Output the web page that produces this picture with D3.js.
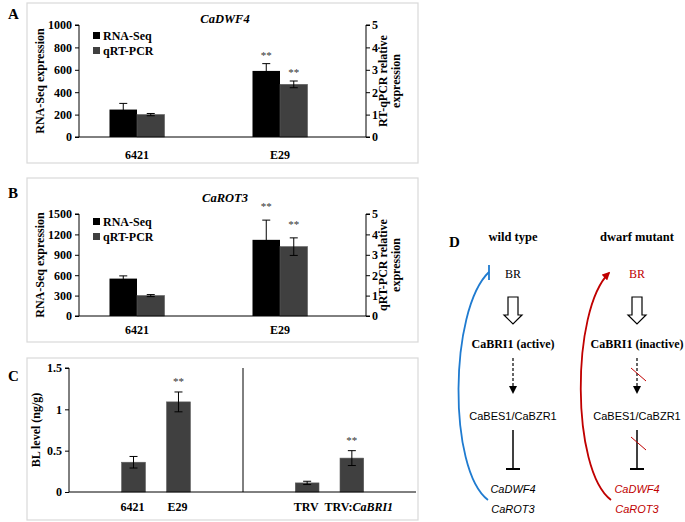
<!DOCTYPE html>
<html><head><meta charset="utf-8">
<script src="https://cdn.jsdelivr.net/npm/d3@7"></script>
<style>body{margin:0;background:#fff}svg{display:block}</style>
</head><body>
<svg id="c" width="685" height="522"></svg>
<script>
// ---------- data ----------
const lines = ["6421", "E29"];
const seriesNames = ["RNA-Seq", "qRT-PCR"];
const dwf4Rna = [245, 590];
const dwf4RnaErr = [55, 65];
const dwf4Qrt = [1.0, 2.35];
const dwf4QrtErr = [0.05, 0.15];
const rot3Rna = [550, 1120];
const rot3RnaErr = [40, 290];
const rot3Qrt = [1.0, 3.4];
const rot3QrtErr = [0.05, 0.43];
const dwf4Sig = ["", "**"];
const rot3Sig = ["", "**"];
const dwf4LeftTicks = [0, 200, 400, 600, 800, 1000];
const rot3LeftTicks = [0, 300, 600, 900, 1200, 1500];
const rightTicks = [0, 1, 2, 3, 4, 5];
const blGroup1 = ["6421", "E29"];
const blGroup2 = ["TRV", "TRV:CaBRI1"];
const blValues1 = [0.36, 1.09];
const blErr1 = [0.07, 0.12];
const blValues2 = [0.11, 0.41];
const blErr2 = [0.02, 0.09];
const blSig1 = ["", "**"];
const blSig2 = ["", "**"];
const blTicks = [0, 0.5, 1, 1.5];

const svg = d3.select("#c");
const SERIF = "'Liberation Serif','Times New Roman',serif";
const SANS = "'Liberation Sans',Arial,sans-serif";
const colRna = "#000000", colQrt = "#404040";
const FS = 12;

function box(x, y, w, h) {
  svg.append("rect").attr("x", x).attr("y", y).attr("width", w).attr("height", h)
    .attr("fill", "none").attr("stroke", "#d9d9d9").attr("stroke-width", 1.2);
}
function panelLabel(t, x, y) {
  svg.append("text").attr("x", x).attr("y", y).text(t)
    .attr("font-family", SERIF).attr("font-weight", "bold").attr("font-size", 15);
}

function dualChart(o) {
  const g = svg.append("g");
  const yL = d3.scaleLinear().domain([0, o.leftMax]).range([o.y0, o.y1]);
  const yR = d3.scaleLinear().domain([0, 5]).range([o.y0, o.y1]);
  const x0 = d3.scaleBand().domain(lines).range([o.xb0, o.xb1]);
  const x1 = d3.scaleBand().domain(seriesNames).range([0, 55]);
  const off = x0.bandwidth() / 2 - 27.5;

  lines.forEach((c, i) => {
    const bx = x0(c) + off;
    const rv = o.rna[i], qv = o.qrt[i];
    g.append("rect").attr("x", bx + x1("RNA-Seq")).attr("width", x1.bandwidth())
      .attr("y", yL(rv)).attr("height", yL(0) - yL(rv)).attr("fill", colRna);
    g.append("rect").attr("x", bx + x1("qRT-PCR")).attr("width", x1.bandwidth())
      .attr("y", yR(qv)).attr("height", yR(0) - yR(qv)).attr("fill", colQrt)
      .attr("stroke", "#5a5a5a").attr("stroke-width", 0.6);
    const eb = (cx, top, bot) => {
      g.append("line").attr("x1", cx).attr("x2", cx).attr("y1", top).attr("y2", bot).attr("stroke", "#000").attr("stroke-width", 1);
      g.append("line").attr("x1", cx - 4).attr("x2", cx + 4).attr("y1", top).attr("y2", top).attr("stroke", "#000").attr("stroke-width", 1);
      g.append("line").attr("x1", cx - 4).attr("x2", cx + 4).attr("y1", bot).attr("y2", bot).attr("stroke", "#000").attr("stroke-width", 1);
    };
    const cr = bx + x1("RNA-Seq") + x1.bandwidth() / 2;
    const cq = bx + x1("qRT-PCR") + x1.bandwidth() / 2;
    eb(cr, yL(rv + o.rnaErr[i]), yL(rv - o.rnaErr[i]));
    eb(cq, yR(qv + o.qrtErr[i]), yR(qv - o.qrtErr[i]));
    if (o.sig[i]) {
      g.append("text").attr("x", cr).attr("y", yL(rv + o.rnaErr[i]) - o.sigGap).text(o.sig[i])
        .attr("text-anchor", "middle").attr("font-family", SERIF).attr("font-size", 11).attr("fill", "#333");
      g.append("text").attr("x", cq).attr("y", yR(qv + o.qrtErr[i]) - o.sigGap).text(o.sig[i])
        .attr("text-anchor", "middle").attr("font-family", SERIF).attr("font-size", 11).attr("fill", "#333");
    }
  });

  const ax = d3.axisLeft(yL).tickValues(o.leftTicks).tickFormat(d3.format("d")).tickSize(4).tickPadding(3);
  const gl = g.append("g").attr("transform", `translate(${o.xl},0)`).call(ax);
  const axr = d3.axisRight(yR).tickValues(rightTicks).tickFormat(d3.format("d")).tickSize(4).tickPadding(2);
  const gr = g.append("g").attr("transform", `translate(${o.xr},0)`).call(axr);
  [gl, gr].forEach(a => {
    a.select(".domain").attr("stroke", "#000").attr("d", `M${a === gl ? -4 : 4},${o.y1}H0V${o.y0}H${a === gl ? -4 : 4}`);
    a.selectAll("text").attr("font-family", SERIF).attr("font-weight", "bold").attr("font-size", FS).attr("fill", "#000");
    a.selectAll("line").attr("stroke", "#000");
  });
  g.append("line").attr("x1", o.xl).attr("x2", o.xr).attr("y1", o.y0).attr("y2", o.y0).attr("stroke", "#000");

  lines.forEach(c => {
    g.append("text").attr("x", x0(c) + x0.bandwidth() / 2).attr("y", o.catY).text(c)
      .attr("text-anchor", "middle").attr("font-family", SERIF).attr("font-weight", "bold").attr("font-size", FS);
  });
  g.append("text").attr("x", 225).attr("y", o.titleY).text(o.title)
    .attr("text-anchor", "middle").attr("font-family", SERIF).attr("font-weight", "bold")
    .attr("font-style", "italic").attr("font-size", 12.5);
  g.append("text").attr("transform", `translate(44,${(o.y0 + o.y1) / 2}) rotate(-90)`).text("RNA-Seq expression")
    .attr("text-anchor", "middle").attr("font-family", SERIF).attr("font-weight", "bold").attr("font-size", FS);
  const rl = g.append("text").attr("transform", `translate(387,${(o.y0 + o.y1) / 2}) rotate(-90)`)
    .attr("text-anchor", "middle").attr("font-family", SERIF).attr("font-weight", "bold").attr("font-size", FS);
  rl.append("tspan").attr("x", 0).attr("dy", 0).text(o.rightLabel);
  rl.append("tspan").attr("x", 0).attr("dy", 12.5).text("expression");
  const cols = [colRna, colQrt];
  seriesNames.forEach((s, i) => {
    const ly = o.legY + i * 15;
    g.append("rect").attr("x", 93).attr("y", ly - 8).attr("width", 7).attr("height", 7).attr("fill", cols[i]);
    g.append("text").attr("x", 103).attr("y", ly).text(s)
      .attr("font-family", SERIF).attr("font-weight", "bold").attr("font-size", FS);
  });
}

// ---------- panel A ----------
box(27, 3, 391, 160);
panelLabel("A", 8, 19);
dualChart({
  leftMax: 1000, y0: 137, y1: 25, xb0: 65.5, xb1: 351.5, xl: 79, xr: 366,
  rna: dwf4Rna, rnaErr: dwf4RnaErr, qrt: dwf4Qrt, qrtErr: dwf4QrtErr, sig: dwf4Sig,
  leftTicks: dwf4LeftTicks, title: "CaDWF4", titleY: 23, catY: 159, legY: 40,
  rightLabel: "RT-qPCR relative", sigGap: 5
});

// ---------- panel B ----------
box(27, 178, 391, 164);
panelLabel("B", 8, 198);
dualChart({
  leftMax: 1500, y0: 316, y1: 214, xb0: 65.5, xb1: 351.5, xl: 79, xr: 366,
  rna: rot3Rna, rnaErr: rot3RnaErr, qrt: rot3Qrt, qrtErr: rot3QrtErr, sig: rot3Sig,
  leftTicks: rot3LeftTicks, title: "CaROT3", titleY: 202, catY: 334, legY: 226,
  rightLabel: "qRT-PCR relative", sigGap: 10
});

// ---------- panel C ----------
box(27, 358, 391, 162);
panelLabel("C", 8, 381);
(function () {
  const g = svg.append("g");
  const y = d3.scaleLinear().domain([0, 1.5]).range([492, 368]);
  const xa = d3.scaleBand().domain(blGroup1).range([69, 243]).paddingInner(0.47).paddingOuter(1.17);
  const xb = d3.scaleBand().domain(blGroup2).range([243, 416]).paddingInner(0.47).paddingOuter(1.17);
  const draw = (xs, cats, vals, errs, sig) => {
    cats.forEach((c, i) => {
      const v = vals[i], cx = xs(c) + xs.bandwidth() / 2;
      g.append("rect").attr("x", xs(c)).attr("width", xs.bandwidth()).attr("y", y(v)).attr("height", y(0) - y(v))
        .attr("fill", colQrt).attr("stroke", "#5a5a5a").attr("stroke-width", 0.6);
      const t = y(v + errs[i]), b = y(v - errs[i]);
      g.append("line").attr("x1", cx).attr("x2", cx).attr("y1", t).attr("y2", b).attr("stroke", "#000");
      [t, b].forEach(yy => g.append("line").attr("x1", cx - 4).attr("x2", cx + 4).attr("y1", yy).attr("y2", yy).attr("stroke", "#000"));
      if (sig[i]) g.append("text").attr("x", cx).attr("y", t - 7).text(sig[i]).attr("text-anchor", "middle")
        .attr("font-family", SERIF).attr("font-size", 11).attr("fill", "#333");
      const parts = c.split(":");
      const lab = g.append("text").attr("x", parts.length > 1 ? cx + 7 : cx - 1).attr("y", 511).attr("text-anchor", "middle")
        .attr("font-family", SERIF).attr("font-weight", "bold").attr("font-size", FS);
      if (parts.length > 1) {
        lab.append("tspan").text(parts[0] + ":");
        lab.append("tspan").attr("font-style", "italic").text(parts[1]);
      } else lab.text(c);
    });
  };
  draw(xa, blGroup1, blValues1, blErr1, blSig1);
  draw(xb, blGroup2, blValues2, blErr2, blSig2);
  const ax = g.append("g").attr("transform", "translate(69,0)")
    .call(d3.axisLeft(y).tickValues(blTicks).tickFormat(d3.format("")).tickSize(4).tickPadding(3));
  ax.select(".domain").attr("d", "M-4,368H0V492");
  ax.selectAll("text").attr("font-family", SERIF).attr("font-weight", "bold").attr("font-size", FS);
  g.append("line").attr("x1", 69).attr("x2", 416).attr("y1", 492).attr("y2", 492).attr("stroke", "#000");
  g.append("line").attr("x1", 243).attr("x2", 243).attr("y1", 368).attr("y2", 492).attr("stroke", "#000");
  g.append("text").attr("transform", "translate(40,430) rotate(-90)").text("BL level (ng/g)")
    .attr("text-anchor", "middle").attr("font-family", SERIF).attr("font-weight", "bold").attr("font-size", FS);
})();

// ---------- panel D ----------
(function () {
  const g = svg.append("g");
  const blue = "#1f7bd0", red = "#c00000";
  panelLabel("D", 449, 247);
  const cols = [{ cx: 513, head: "wild type", state: "CaBRI1 (active)", mut: false },
                { cx: 637, head: "dwarf mutant", state: "CaBRI1 (inactive)", mut: true }];
  const defs = svg.append("defs");
  defs.append("marker").attr("id", "rh").attr("viewBox", "0 0 10 10").attr("refX", 8).attr("refY", 5)
    .attr("markerWidth", 4.5).attr("markerHeight", 4.5).attr("orient", "auto")
    .append("path").attr("d", "M0,0L10,5L0,10Z").attr("fill", red);

  cols.forEach(k => {
    const x = k.cx;
    g.append("text").attr("x", x).attr("y", 241).text(k.head).attr("text-anchor", "middle")
      .attr("font-family", SERIF).attr("font-weight", "bold").attr("font-size", 12.5);
    g.append("text").attr("x", x).attr("y", 278).text("BR").attr("text-anchor", "middle")
      .attr("font-family", SERIF).attr("font-size", 12).attr("fill", k.mut ? red : "#000");
    g.append("path").attr("d", `M${x - 5},297V315H${x - 9}L${x},324L${x + 9},315H${x + 5}V297Z`)
      .attr("fill", "#fff").attr("stroke", "#000").attr("stroke-width", 1.2);
    g.append("text").attr("x", x).attr("y", 348).text(k.state).attr("text-anchor", "middle")
      .attr("font-family", SERIF).attr("font-weight", "bold").attr("font-size", 12);
    g.append("line").attr("x1", x).attr("x2", x).attr("y1", 358).attr("y2", 386).attr("stroke", "#000")
      .attr("stroke-width", 1.2).attr("stroke-dasharray", "3,2");
    g.append("path").attr("d", `M${x - 4},386L${x},394L${x + 4},386Z`).attr("fill", "#000");
    g.append("text").attr("x", x).attr("y", 420).text("CaBES1/CaBZR1").attr("text-anchor", "middle")
      .attr("font-family", SANS).attr("font-size", 11);
    g.append("line").attr("x1", x).attr("x2", x).attr("y1", 430).attr("y2", 469).attr("stroke", "#000").attr("stroke-width", 1.5);
    g.append("line").attr("x1", x - 7).attr("x2", x + 7).attr("y1", 469).attr("y2", 469).attr("stroke", "#000").attr("stroke-width", 2);
    g.append("text").attr("x", x).attr("y", 493).text("CaDWF4").attr("text-anchor", "middle")
      .attr("font-family", SANS).attr("font-style", "italic").attr("font-size", 11).attr("fill", k.mut ? red : "#000");
    g.append("text").attr("x", x).attr("y", 513).text("CaROT3").attr("text-anchor", "middle")
      .attr("font-family", SANS).attr("font-style", "italic").attr("font-size", 11).attr("fill", k.mut ? red : "#000");
    if (k.mut) {
      g.append("line").attr("x1", x - 6).attr("x2", x + 9).attr("y1", 368).attr("y2", 381).attr("stroke", red).attr("stroke-width", 1);
      g.append("line").attr("x1", x - 6).attr("x2", x + 9).attr("y1", 437).attr("y2", 450).attr("stroke", red).attr("stroke-width", 1);
    }
  });
  g.append("path").attr("d", "M488,500C448,470 449,310 489,272").attr("fill", "none").attr("stroke", blue).attr("stroke-width", 1.8);
  g.append("line").attr("x1", 489).attr("x2", 489).attr("y1", 265).attr("y2", 280).attr("stroke", blue).attr("stroke-width", 1.8);
  g.append("path").attr("d", "M611,500C571,470 571,310 609,273").attr("fill", "none").attr("stroke", red).attr("stroke-width", 1.8)
    .attr("marker-end", "url(#rh)");
})();
</script>
</body></html>
